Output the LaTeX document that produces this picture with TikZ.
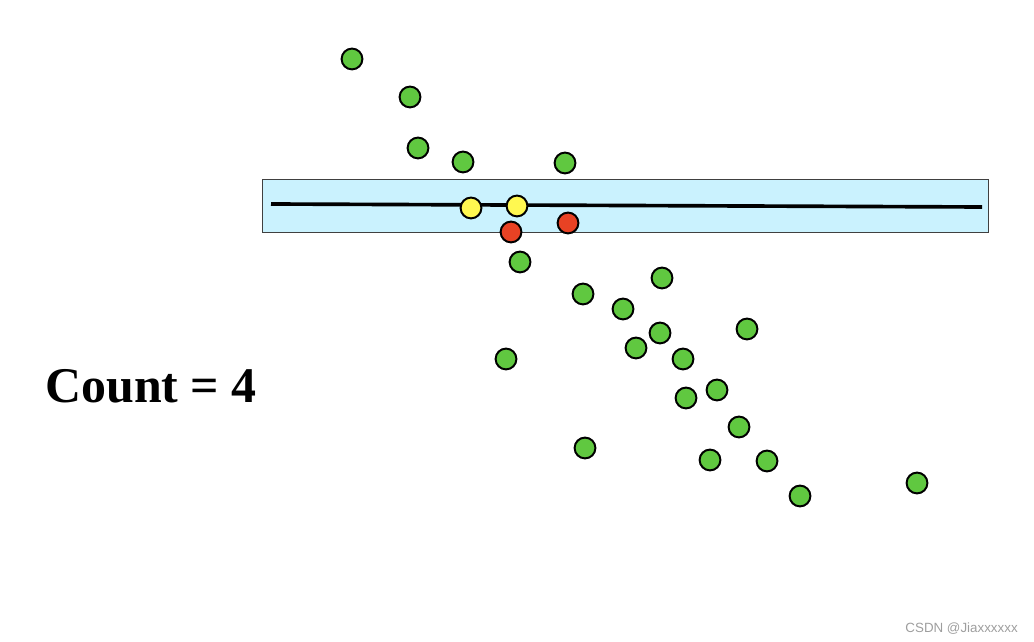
\documentclass[tikz,border=0pt]{standalone}
\usepackage{fontspec}
\setmainfont{Liberation Serif}
\newfontfamily\marksans{Liberation Sans}
\usetikzlibrary{positioning}
\definecolor{ptgreen}{RGB}{96,200,64}
\definecolor{ptyellow}{RGB}{255,248,80}
\definecolor{ptred}{RGB}{232,66,36}
\definecolor{bandblue}{RGB}{202,242,254}

\begin{document}
\begin{tikzpicture}[
  x=0.025cm, y=-0.025cm,
  pt/.style={circle, draw=black, line width=1.4pt, minimum size=0.52cm, inner sep=0pt},
  inlier/.style={pt, fill=ptyellow},
  outlier/.style={pt, fill=ptgreen},
  near/.style={pt, fill=ptred},
  band/.style={draw=black!75, line width=0.6pt, fill=bandblue,
               minimum width=18.125cm, minimum height=1.325cm, inner sep=0pt}
]
\useasboundingbox (0,0) rectangle (1034,642);

% Threshold band and fitted line
\node[band] (band) at (625.5,205.5) {};
\coordinate (fitA) at (271,204);
\coordinate (fitB) at (982,207);
\draw[line width=2.6pt] (fitA) -- (fitB);

% Points far from the line
\foreach \px/\py [count=\i] in {352/59, 410/97, 418/148, 463/162, 565/163,
    520/262, 583/294, 662/278, 623/309, 660/333, 747/329, 636/348,
    683/359, 506/359, 717/390, 686/398, 739/427, 585/448, 710/460,
    767/461, 800/496, 917/483}
  \node[outlier] (g\i) at (\px,\py) {};

% Points on the line
\node[inlier] (y1) at (471,208) {};
\node[inlier] (y2) at (517,206) {};

% Points near the line
\node[near] (r1) at (511,232) {};
\node[near] (r2) at (568,223) {};

% Count
\node[font=\bfseries\fontsize{35.5}{40}\selectfont, anchor=base west, inner sep=0pt] (count) at (45,403) {Count = 4};

% Watermark
\node[font=\marksans\fontsize{9.5}{11}\selectfont, text=black!38, anchor=base east, inner sep=0pt] (mark) at (1018,632) {CSDN @Jiaxxxxxx};

\end{tikzpicture}
\end{document}
